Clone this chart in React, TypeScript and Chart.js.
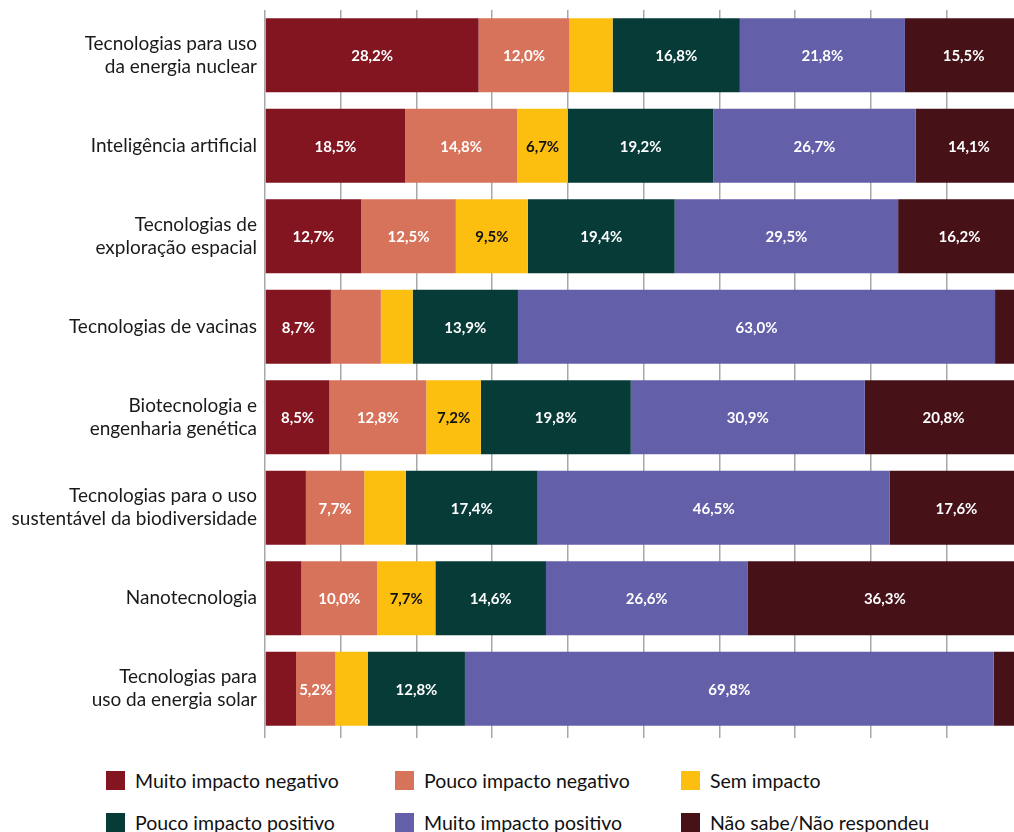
import React, { useEffect, useRef } from "react";
import { Chart, registerables } from "chart.js";

Chart.register(...registerables);

const categories: (string | string[])[] = [
  ["Tecnologias para uso", "da energia nuclear"],
  "Inteligência artificial",
  ["Tecnologias de", "exploração espacial"],
  "Tecnologias de vacinas",
  ["Biotecnologia e", "engenharia genética"],
  ["Tecnologias para o uso", "sustentável da biodiversidade"],
  "Nanotecnologia",
  ["Tecnologias para", "uso da energia solar"],
];

const seriesNames = [
  "Muito impacto negativo",
  "Pouco impacto negativo",
  "Sem impacto",
  "Pouco impacto positivo",
  "Muito impacto positivo",
  "Não sabe/Não respondeu",
];

const muitoNegativo = [28.2, 18.5, 12.7, 8.7, 8.5, 5.4, 4.8, 4.1];
const poucoNegativo = [12.0, 14.8, 12.5, 6.6, 12.8, 7.7, 10.0, 5.2];
const semImpacto = [5.7, 6.7, 9.5, 4.2, 7.2, 5.5, 7.7, 4.3];
const poucoPositivo = [16.8, 19.2, 19.4, 13.9, 19.8, 17.4, 14.6, 12.8];
const muitoPositivo = [21.8, 26.7, 29.5, 63.0, 30.9, 46.5, 26.6, 69.8];
const naoSabe = [15.5, 14.1, 16.2, 3.6, 20.8, 17.6, 36.3, 3.8];

// [seriesIndex, categoryIndex] of segments that carry no value label
const unlabeled: [number, number][] = [
  [2, 0],
  [1, 3], [2, 3], [5, 3],
  [0, 5], [2, 5],
  [0, 6],
  [0, 7], [2, 7], [5, 7],
];

const seriesValues = [muitoNegativo, poucoNegativo, semImpacto, poucoPositivo, muitoPositivo, naoSabe];
const seriesColors = ["#821520", "#D8735B", "#FCBF10", "#073B38", "#635FA9", "#461117"];
const labelColors = ["#ffffff", "#ffffff", "#111111", "#ffffff", "#ffffff", "#ffffff"];

const FONT = "Lato, 'Noto Sans', sans-serif";

const valueLabelPlugin = {
  id: "valueLabels",
  afterDatasetsDraw(chart: any) {
    const ctx = chart.ctx;
    ctx.save();
    ctx.font = `bold 15px ${FONT}`;
    ctx.textAlign = "center";
    ctx.textBaseline = "middle";
    chart.data.datasets.forEach((ds: any, di: number) => {
      const meta = chart.getDatasetMeta(di);
      meta.data.forEach((el: any, ci: number) => {
        if (unlabeled.some(([s, c]) => s === di && c === ci)) return;
        const v = ds.data[ci];
        const { x, y } = el.getCenterPoint();
        ctx.fillStyle = labelColors[di];
        ctx.fillText(v.toFixed(1).replace(".", ",") + "%", x, y + 1);
      });
    });
    ctx.restore();
  },
};

export default function App() {
  const canvasRef = useRef<HTMLCanvasElement | null>(null);

  useEffect(() => {
    let chart: Chart | null = null;
    let cancelled = false;
    const make = () => {
      if (cancelled || !canvasRef.current) return;
      chart = new Chart(canvasRef.current, {
        type: "bar",
        data: {
          labels: categories,
          datasets: seriesNames.map((name, i) => ({
            label: name,
            data: seriesValues[i],
            backgroundColor: seriesColors[i],
            borderWidth: 0,
            categoryPercentage: 1,
            barPercentage: 0.817,
          })),
        },
        options: {
          indexAxis: "y",
          animation: false,
          responsive: false,
          maintainAspectRatio: false,
          layout: { padding: { top: 10, bottom: 7, left: 0, right: 0 } },
          plugins: {
            legend: { display: false },
            tooltip: { enabled: false },
          },
          scales: {
            x: {
              stacked: true,
              min: 0,
              max: 98.9,
              ticks: { display: false, stepSize: 10, includeBounds: false },
              grid: {
                display: true,
                color: "#a8a8a8",
                lineWidth: 1.5,
                drawTicks: true,
                tickLength: 4,
              },
              border: { display: false },
            },
            y: {
              stacked: true,
              afterFit: (scale: any) => {
                scale.width = 265;
                scale.paddingTop = 0;
                scale.paddingBottom = 0;
              },
              grid: { display: false, drawTicks: false },
              border: { display: false },
              ticks: {
                color: "#1a1a1a",
                padding: 8,
                font: { family: FONT, size: 19, lineHeight: 1.2 },
              },
            },
          },
        } as any,
        plugins: [valueLabelPlugin],
      });
    };
    const fonts = (document as any).fonts;
    if (fonts && fonts.load) {
      Promise.all([fonts.load(`19px Lato`), fonts.load(`bold 15px Lato`)])
        .catch(() => {})
        .then(make);
    } else {
      make();
    }
    return () => {
      cancelled = true;
      if (chart) chart.destroy();
    };
  }, []);

  const colLeft = [106, 395, 681];
  const rowTop = [771, 813];

  return (
    <div
      style={{
        position: "absolute",
        left: 0,
        top: 0,
        width: 1014,
        height: 832,
        background: "#ffffff",
        overflow: "hidden",
      }}
    >
      <canvas
        ref={canvasRef}
        width={1014}
        height={745}
        style={{ position: "absolute", left: 0, top: 0, width: 1014, height: 745 }}
      />
      {seriesNames.map((name, i) => (
        <div
          key={name}
          style={{
            position: "absolute",
            left: colLeft[i % 3],
            top: rowTop[Math.floor(i / 3)],
            height: 19,
            display: "flex",
            alignItems: "center",
            fontFamily: FONT,
            fontSize: 19.5,
            color: "#111111",
            whiteSpace: "nowrap",
          }}
        >
          <span
            style={{
              display: "inline-block",
              width: 19,
              height: 19,
              background: seriesColors[i],
              marginRight: 10,
              flex: "none",
            }}
          />
          <span style={{ lineHeight: "19px" }}>{name}</span>
        </div>
      ))}
    </div>
  );
}
